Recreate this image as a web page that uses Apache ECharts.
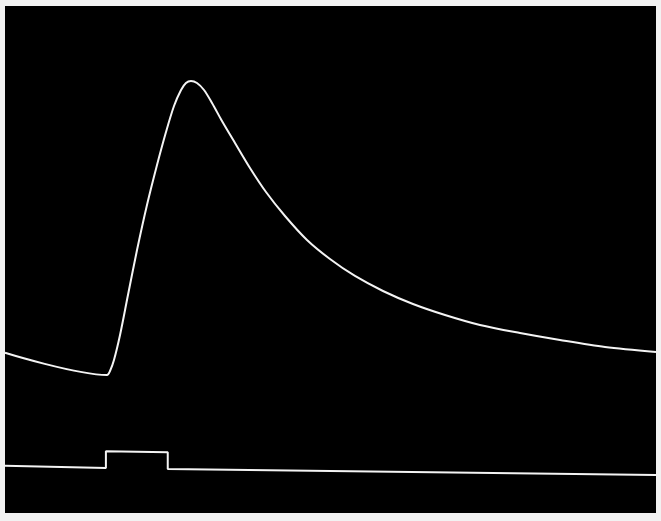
<!DOCTYPE html>
<html>
<head>
<meta charset="utf-8">
<script src="https://cdn.jsdelivr.net/npm/echarts@6/dist/echarts.min.js"></script>
<style>
  html, body { margin: 0; padding: 0; background: #f2f2f2; }
  #chart { width: 661px; height: 521px; }
</style>
</head>
<body>
<div id="chart"></div>
<script>
// trace, arbitrary units (x: 0-100 sweep, y: 0-100 screen)
var responseTime = [0, 15.67, 16.13, 16.74, 17.67, 18.89, 20.28, 21.81, 23.35, 24.73, 25.96, 27.04, 27.80, 28.57, 29.49, 30.57, 31.80, 33.33, 35.33, 37.63, 40.09, 43.01, 46.39, 49.92, 53.76, 58.06, 62.67, 67.59, 72.96, 79.11, 85.25, 92.17, 100]
var responseValue = [31.6, 27.22, 28.01, 30.18, 35.11, 43.00, 51.87, 60.75, 68.64, 75.15, 80.28, 83.43, 84.81, 85.21, 84.81, 83.43, 80.87, 77.32, 72.98, 68.05, 63.31, 58.58, 53.85, 50.10, 46.75, 43.79, 41.22, 39.05, 37.08, 35.50, 34.12, 32.74, 31.76]

// stimulus marker trace
var pulseTime = [0, 15.5, 15.5, 25.0, 25.0, 100]
var pulseValue = [9.3, 8.9, 12.2, 12.0, 8.7, 7.5]

function pairs(xs, ys) {
  return xs.map(function(x, i) { return [x, ys[i]] })
}

var chart = echarts.init(document.getElementById('chart'))
chart.setOption({
  animation: false,
  backgroundColor: '#f2f2f2',
  grid: {
    left: 5,
    right: 5,
    top: 6,
    bottom: 8,
    show: true,
    backgroundColor: '#000',
    borderWidth: 0
  },
  xAxis: {
    type: 'value',
    min: 0,
    max: 100,
    show: false
  },
  yAxis: {
    type: 'value',
    min: 0,
    max: 100,
    show: false
  },
  series: [{
    type: 'line',
    data: pairs(responseTime, responseValue),
    smooth: 0.3,
    symbol: 'none',
    lineStyle: {
      color: '#f4f4f4',
      width: 2
    }
  },
  {
    type: 'line',
    data: pairs(pulseTime, pulseValue),
    symbol: 'none',
    lineStyle: {
      color: '#f4f4f4',
      width: 2
    }
  }]
})
</script>
</body>
</html>
